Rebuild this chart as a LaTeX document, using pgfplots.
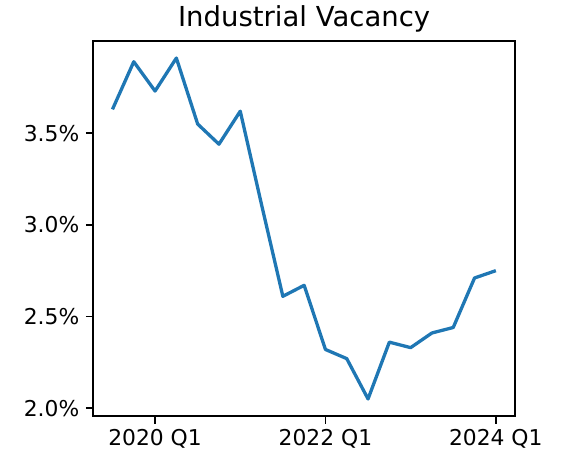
\documentclass[border=0pt]{standalone}
\usepackage{fontspec}
\setmainfont{DejaVu Sans}
\usepackage{pgfplots}
\pgfplotsset{compat=1.18}
\definecolor{mplblue}{HTML}{1F77B4}
\begin{document}
\begin{tikzpicture}[x=1pt,y=1pt]
\useasboundingbox (-93.3,-43) rectangle (467.7,416);
\begin{axis}[
  at={(0,0)}, anchor=south west,
  scale only axis, width=421.7pt, height=375pt,
  xmin=-0.9, xmax=18.9, ymin=1.957, ymax=4.003,
  xtick={2,10,18}, xticklabels={2020 Q1,2022 Q1,2024 Q1},
  ytick={2,2.5,3,3.5}, yticklabels={2.0\%,2.5\%,3.0\%,3.5\%},
  tick pos=left, tick align=outside, major tick length=7.5pt,
  tick style={black, line width=1.6pt},
  axis line style={line width=1.6pt},
  /pgf/number format/assume math mode=true,
  ticklabel style={font=\fontsize{21.8}{25}\selectfont},
  xticklabel style={yshift=-2pt},
  yticklabel style={xshift=-3pt},
  title={Industrial Vacancy},
  title style={font=\fontsize{27.5}{32}\selectfont, yshift=-1pt},
]
\addplot[mplblue, line width=3.3pt, line join=round] coordinates {
(0,3.63) (1,3.89) (2,3.73) (3,3.91) (4,3.55) (5,3.44) (6,3.62) (7,3.11)
(8,2.61) (9,2.67) (10,2.32) (11,2.27) (12,2.05) (13,2.36) (14,2.33)
(15,2.41) (16,2.44) (17,2.71) (18,2.75)
};
\end{axis}
\end{tikzpicture}
\end{document}
